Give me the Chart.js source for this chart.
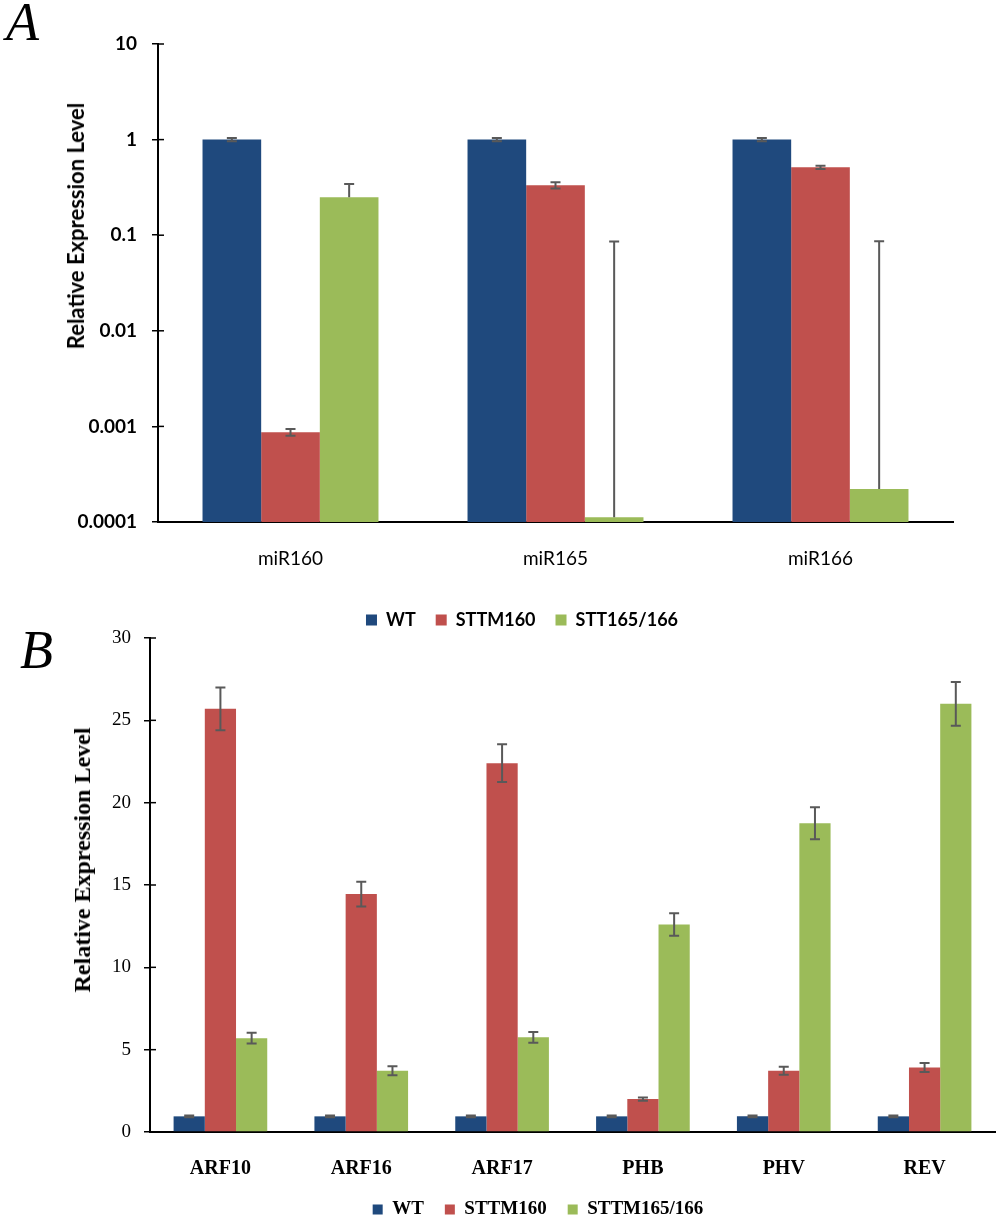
<!DOCTYPE html>
<html>
<head>
<meta charset="utf-8">
<script src="https://cdn.jsdelivr.net/npm/chart.js@4.4.1/dist/chart.umd.min.js"></script>
<style>
  html, body { margin: 0; padding: 0; background: #fff; }
  body { position: relative; width: 1000px; height: 1221px; overflow: hidden; }
  .box { position: absolute; left: 0; width: 1000px; }
  #boxA { top: 0; height: 640px; }
  #boxB { top: 600px; height: 630px; }
  .panel { position: absolute; font-family: "Liberation Serif", serif; font-style: italic; font-size: 54px; line-height: 1; color: #000; }
  .ytitle { position: absolute; white-space: nowrap; line-height: 1; color: #000; transform: translate(-50%, -50%) rotate(-90deg); }
  #titleA { left: 76px; top: 226px; font-family: Lato, sans-serif; font-weight: bold; font-size: 22px; }
  #titleB { left: 82px; top: 860px; font-family: "Liberation Serif", serif; font-weight: bold; font-size: 24px; }
</style>
</head>
<body>
<div class="box" id="boxA"><canvas id="chartA"></canvas></div>
<div class="box" id="boxB"><canvas id="chartB"></canvas></div>
<div class="panel" style="left:6px; top:-5px;">A</div>
<div class="panel" style="left:20px; top:623px;">B</div>
<div class="ytitle" id="titleA">Relative Expression Level</div>
<div class="ytitle" id="titleB">Relative Expression Level</div>
<script>
// panel A: miRNA levels (log scale)
const catsA = ['miR160', 'miR165', 'miR166'];
const wtA = [1, 1, 1];
const wtErrA = [0.04, 0.04, 0.04];
const sttm160A = [0.00087, 0.333, 0.513];
const sttm160ErrA = [0.00007, 0.025, 0.02];
const stt165A = [0.25, 0.000112, 0.000221];
const stt165ErrA = [0.093, 0.086, 0.086];
const tickValsA = [0.0001, 0.001, 0.01, 0.1, 1, 10];
const tickLabelsA = ['0.0001', '0.001', '0.01', '0.1', '1', '10'];

// panel B: target genes (linear scale)
const catsB = ['ARF10', 'ARF16', 'ARF17', 'PHB', 'PHV', 'REV'];
const wtB = [0.95, 0.95, 0.95, 0.95, 0.95, 0.95];
const wtErrB = [0.05, 0.05, 0.05, 0.05, 0.05, 0.05];
const sttm160B = [25.7, 14.45, 22.4, 2.0, 3.72, 3.92];
const sttm160ErrB = [1.3, 0.75, 1.15, 0.1, 0.25, 0.27];
const sttm165B = [5.7, 3.72, 5.75, 12.6, 18.75, 26.0];
const sttm165ErrB = [0.32, 0.27, 0.33, 0.68, 0.97, 1.33];

const BLUE = '#1F497D';
const RED = '#C0504D';
const GREEN = '#9BBB59';
const ERR = '#595959';

const errorBars = {
  id: 'errorBars',
  afterDatasetsDraw(chart) {
    const ctx = chart.ctx;
    const y = chart.scales.y;
    ctx.save();
    ctx.strokeStyle = ERR;
    ctx.lineWidth = 2;
    chart.data.datasets.forEach((ds, di) => {
      if (!ds.errors) return;
      chart.getDatasetMeta(di).data.forEach((bar, i) => {
        const v = ds.data[i];
        const e = ds.errors[i];
        const top = y.getPixelForValue(v + e);
        const bot = ds.plusOnly ? bar.y : y.getPixelForValue(v - e);
        ctx.beginPath();
        ctx.moveTo(bar.x, top); ctx.lineTo(bar.x, bot);
        ctx.moveTo(bar.x - 5, top); ctx.lineTo(bar.x + 5, top);
        if (!ds.plusOnly) { ctx.moveTo(bar.x - 5, bot); ctx.lineTo(bar.x + 5, bot); }
        ctx.stroke();
      });
    });
    ctx.restore();
  }
};

// short tick stubs on the inside of the y axis
const innerTicks = {
  id: 'innerTicks',
  afterDraw(chart) {
    const ctx = chart.ctx;
    const y = chart.scales.y;
    ctx.save();
    ctx.strokeStyle = '#000';
    ctx.lineWidth = 1.5;
    y.ticks.forEach((t, i) => {
      const py = y.getPixelForTick(i);
      ctx.beginPath();
      ctx.moveTo(y.right, py);
      ctx.lineTo(y.right + 6, py);
      ctx.stroke();
    });
    ctx.restore();
  }
};

// legend is centred under the plot in the figure, not under the canvas
const legendShift = {
  id: 'legendShift',
  afterLayout(chart, args, opts) {
    const lg = chart.legend;
    if (!lg || !opts.dx) return;
    lg.left += opts.dx;
    lg.right += opts.dx;
  }
};

new Chart(document.getElementById('chartA'), {
  type: 'bar',
  data: {
    labels: catsA,
    datasets: [
      { label: 'WT', data: wtA, errors: wtErrA, backgroundColor: BLUE },
      { label: 'STTM160', data: sttm160A, errors: sttm160ErrA, backgroundColor: RED },
      { label: 'STT165/166', data: stt165A, errors: stt165ErrA, plusOnly: true, backgroundColor: GREEN },
    ],
  },
  options: {
    responsive: true,
    maintainAspectRatio: false,
    animation: false,
    layout: { padding: { left: 0, right: 47, top: 44, bottom: 1 } },
    datasets: { bar: { categoryPercentage: 0.664, barPercentage: 1, borderWidth: 0 } },
    plugins: {
      legendShift: { dx: 45.5 },
      legend: {
        position: 'bottom',
        labels: { boxWidth: 11, boxHeight: 11, padding: 20, color: '#000', font: { family: 'Lato', size: 18, weight: 'bold' } },
      },
      tooltip: { enabled: false },
    },
    scales: {
      x: {
        afterFit(s) { s.height = 69; },
        grid: { display: false },
        border: { display: true, color: '#000', width: 2 },
        ticks: { color: '#000', padding: 17, font: { family: 'Lato', size: 19 } },
      },
      y: {
        type: 'logarithmic',
        min: 0.0001,
        max: 10,
        afterFit(s) { s.width = 158; },
        afterBuildTicks(s) { s.ticks = tickValsA.map((v) => ({ value: v })); },
        grid: { drawOnChartArea: false, tickLength: 6, color: '#000', lineWidth: 1.5 },
        border: { display: true, color: '#000', width: 2 },
        ticks: {
          color: '#000', padding: 15, font: { family: 'Lato', size: 19, weight: 'bold' },
          callback: (v, i) => tickLabelsA[i],
        },
      },
    },
  },
  plugins: [errorBars, innerTicks, legendShift],
});

new Chart(document.getElementById('chartB'), {
  type: 'bar',
  data: {
    labels: catsB,
    datasets: [
      { label: 'WT', data: wtB, errors: wtErrB, backgroundColor: BLUE },
      { label: 'STTM160', data: sttm160B, errors: sttm160ErrB, backgroundColor: RED },
      { label: 'STTM165/166', data: sttm165B, errors: sttm165ErrB, backgroundColor: GREEN },
    ],
  },
  options: {
    responsive: true,
    maintainAspectRatio: false,
    animation: false,
    layout: { padding: { left: 0, right: 5, top: 38, bottom: 1 } },
    datasets: { bar: { categoryPercentage: 0.665, barPercentage: 1, borderWidth: 0 } },
    plugins: {
      legendShift: { dx: 40.5 },
      legend: {
        position: 'bottom',
        labels: { boxWidth: 10, boxHeight: 10, padding: 21, color: '#000', font: { family: 'Liberation Serif', size: 19, weight: 'bold' } },
      },
      tooltip: { enabled: false },
    },
    scales: {
      x: {
        afterFit(s) { s.height = 47; },
        grid: { display: false },
        border: { display: true, color: '#000', width: 2 },
        ticks: { color: '#000', padding: 17, font: { family: 'Liberation Serif', size: 20, weight: 'bold' } },
      },
      y: {
        min: 0,
        max: 30,
        afterFit(s) { s.width = 150; },
        grid: { drawOnChartArea: false, tickLength: 6, color: '#000', lineWidth: 1.5 },
        border: { display: true, color: '#000', width: 2 },
        ticks: { stepSize: 5, color: '#000', padding: 13, font: { family: 'Liberation Serif', size: 19 } },
      },
    },
  },
  plugins: [errorBars, innerTicks, legendShift],
});
</script>
</body>
</html>
